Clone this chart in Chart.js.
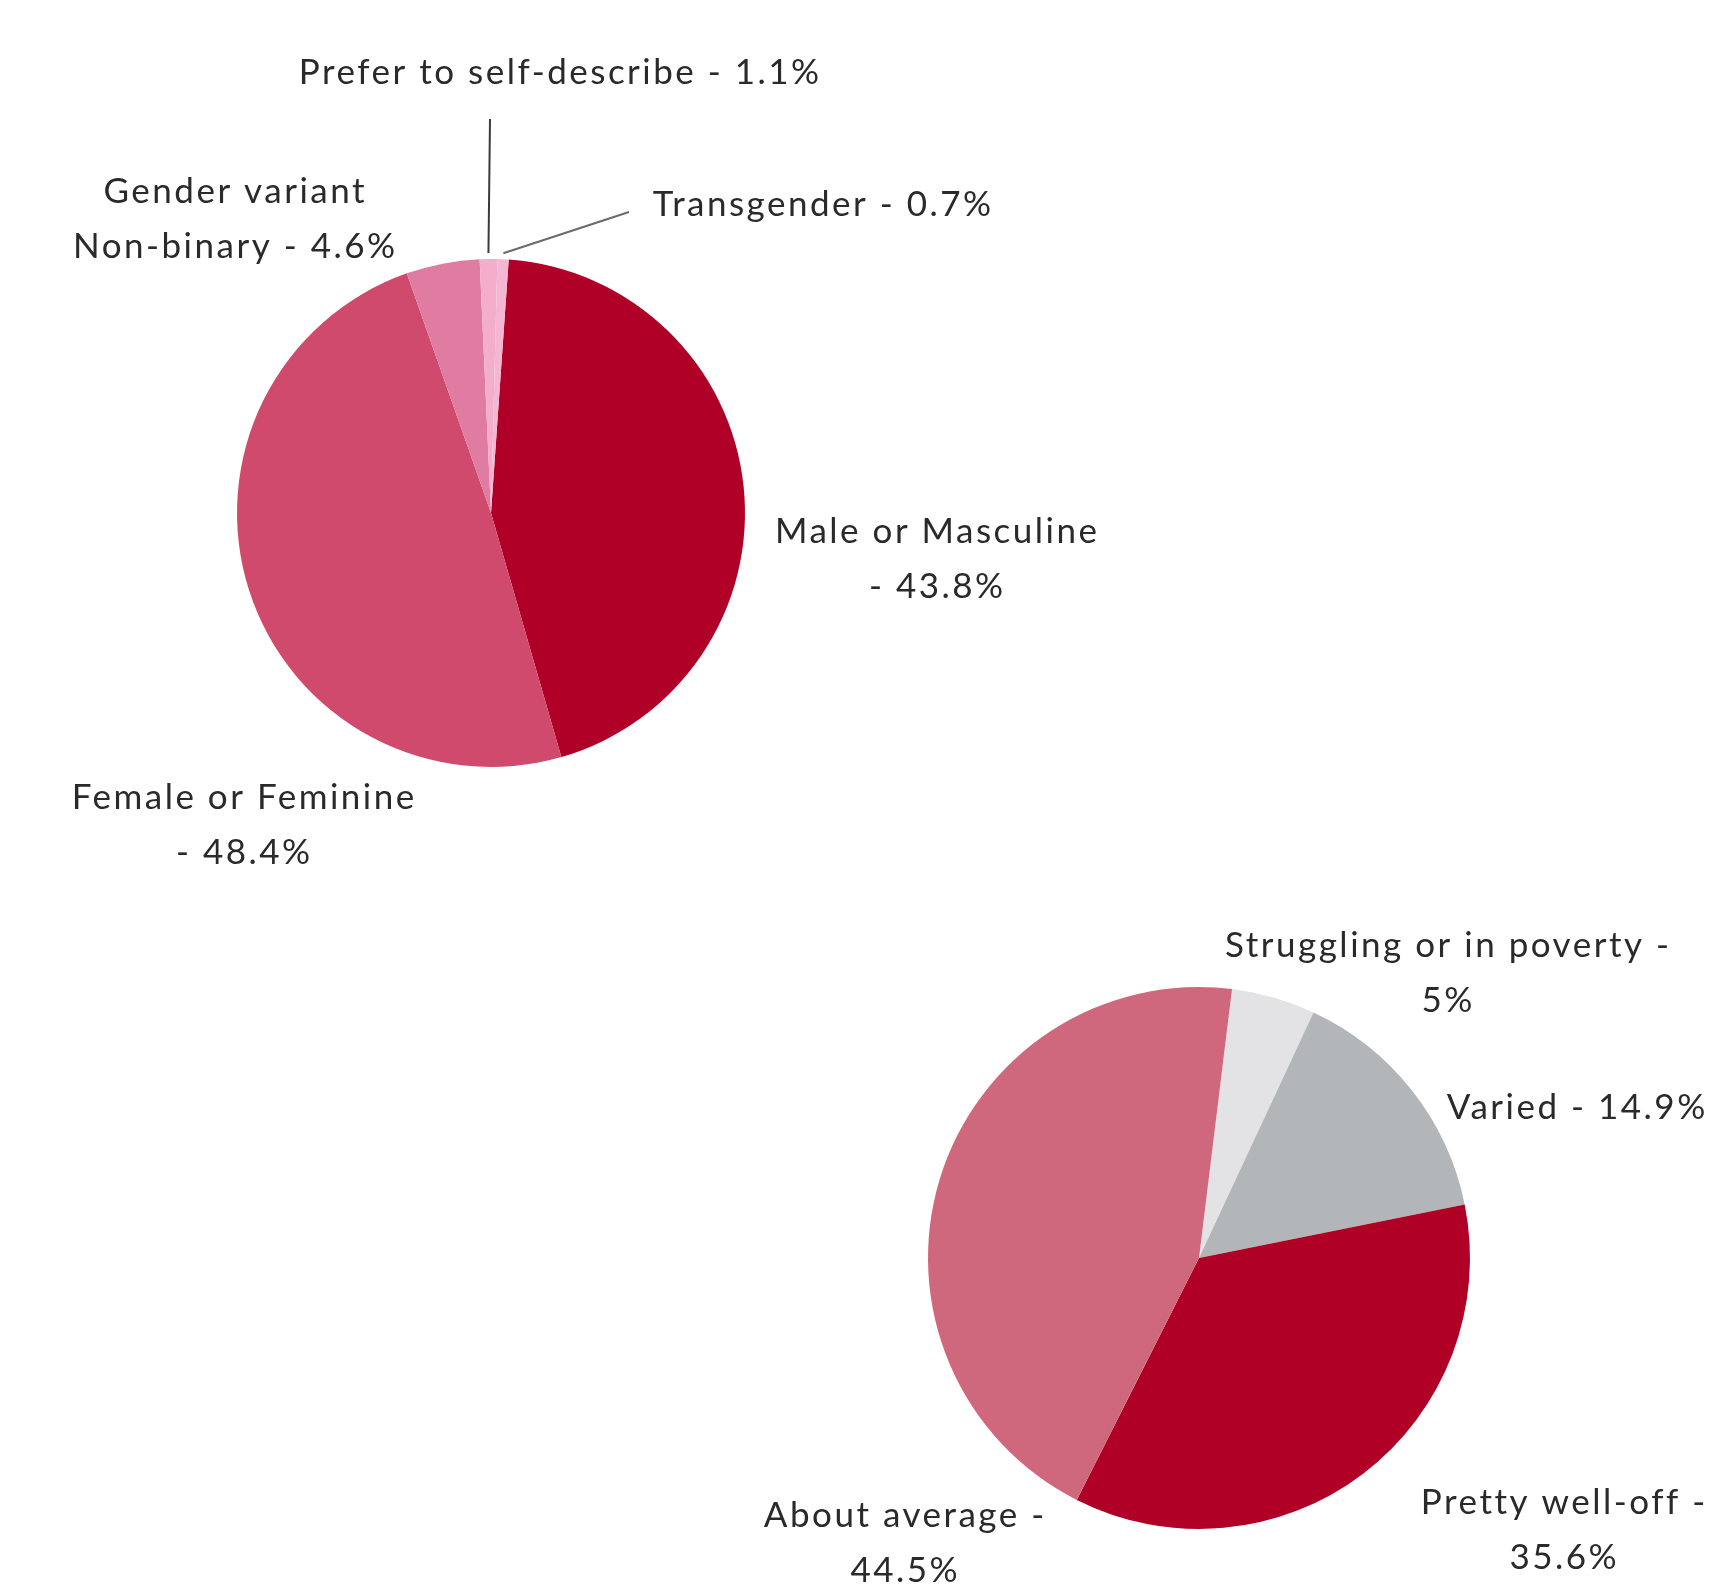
<!DOCTYPE html>
<html>
<head>
<meta charset="utf-8">
<script src="https://cdn.jsdelivr.net/npm/chart.js@4/dist/chart.umd.min.js"></script>
<style>
  html, body { margin: 0; padding: 0; background: #ffffff; }
  #wrap { position: relative; width: 1723px; height: 1584px; overflow: hidden; }
  canvas { position: absolute; left: 0; top: 0; }
</style>
</head>
<body>
<div id="wrap">
  <canvas id="gender" width="1723" height="1584"></canvas>
  <canvas id="income" width="1723" height="1584"></canvas>
</div>
<script>
// Gender identity breakdown
const genderLabels = ['Male or Masculine', 'Female or Feminine', 'Gender variant Non-binary', 'Prefer to self-describe', 'Transgender'];
const genderValues = [43.8, 48.4, 4.6, 1.1, 0.7];
const genderColors = ['#b00028', '#d04a6e', '#e07ca2', '#f2aecb', '#f4b6d1'];

// Household financial situation
const incomeLabels = ['Struggling or in poverty', 'Varied', 'Pretty well-off', 'About average'];
const incomeValues = [5, 14.9, 35.6, 44.5];
const incomeColors = ['#e3e3e5', '#b2b6b9', '#b00026', '#d0687d'];

const FONT = '35px Lato, "Open Sans", sans-serif';
const LETTER_SPACING = 2.5;
const TEXT_COLOR = '#2a2a2a';
const LINE_H = 55;

// Outside label placement: slice index, text lines, centre x, first-line y, optional leader line end
const genderLabelLayout = [
  { i: 3, lines: [genderLabels[3] + ' - ' + genderValues[3] + '%'], x: 559, y: 73, leader: { x: 490, y: 119 } },
  { i: 2, lines: ['Gender variant', 'Non-binary - ' + genderValues[2] + '%'], x: 234, y: 192 },
  { i: 4, lines: [genderLabels[4] + ' - ' + genderValues[4] + '%'], x: 822, y: 205, leader: { x: 629, y: 212 } },
  { i: 0, lines: [genderLabels[0], '- ' + genderValues[0] + '%'], x: 936, y: 532 },
  { i: 1, lines: [genderLabels[1], '- ' + genderValues[1] + '%'], x: 243, y: 798 }
];
const incomeLabelLayout = [
  { i: 0, lines: [incomeLabels[0] + ' -', incomeValues[0] + '%'], x: 1447, y: 946 },
  { i: 1, lines: [incomeLabels[1] + ' - ' + incomeValues[1] + '%'], x: 1576, y: 1108 },
  { i: 2, lines: [incomeLabels[2] + ' -', incomeValues[2] + '%'], x: 1563, y: 1503 },
  { i: 3, lines: [incomeLabels[3] + ' -', incomeValues[3] + '%'], x: 904, y: 1516 }
];

function outsideLabels(layout) {
  return {
    id: 'outsideLabels',
    afterDatasetsDraw(chart) {
      const ctx = chart.ctx;
      const arcs = chart.getDatasetMeta(0).data;
      ctx.save();
      layout.forEach(spec => {
        if (spec.leader) {
          const a = arcs[spec.i].getProps(['x', 'y', 'startAngle', 'endAngle', 'outerRadius'], true);
          const mid = (a.startAngle + a.endAngle) / 2;
          const r = a.outerRadius + 6;
          ctx.beginPath();
          ctx.strokeStyle = spec.i === 3 ? '#3a3a3a' : '#6a6a6a';
          ctx.lineWidth = 2;
          ctx.moveTo(a.x + Math.cos(mid) * r, a.y + Math.sin(mid) * r);
          ctx.lineTo(spec.leader.x, spec.leader.y);
          ctx.stroke();
        }
        ctx.font = FONT;
        ctx.letterSpacing = LETTER_SPACING + 'px';
        ctx.fillStyle = TEXT_COLOR;
        ctx.textAlign = 'center';
        ctx.textBaseline = 'middle';
        spec.lines.forEach((t, k) => ctx.fillText(t, spec.x + LETTER_SPACING / 2, spec.y + k * LINE_H));
      });
      ctx.restore();
    }
  };
}

function makePie(id, labels, values, colors, rotation, padding, layout) {
  return new Chart(document.getElementById(id), {
    type: 'pie',
    data: {
      labels: labels,
      datasets: [{ data: values, backgroundColor: colors, borderWidth: 0 }]
    },
    options: {
      responsive: false,
      animation: false,
      rotation: rotation,
      layout: { padding: padding },
      plugins: { legend: { display: false }, tooltip: { enabled: false } }
    },
    plugins: [outsideLabels(layout)]
  });
}

makePie('gender', genderLabels, genderValues, genderColors, 4,
  { left: 237, right: 978, top: 259, bottom: 817 }, genderLabelLayout);
makePie('income', incomeLabels, incomeValues, incomeColors, 7,
  { left: 928, right: 253, top: 987, bottom: 55 }, incomeLabelLayout);
</script>
</body>
</html>
